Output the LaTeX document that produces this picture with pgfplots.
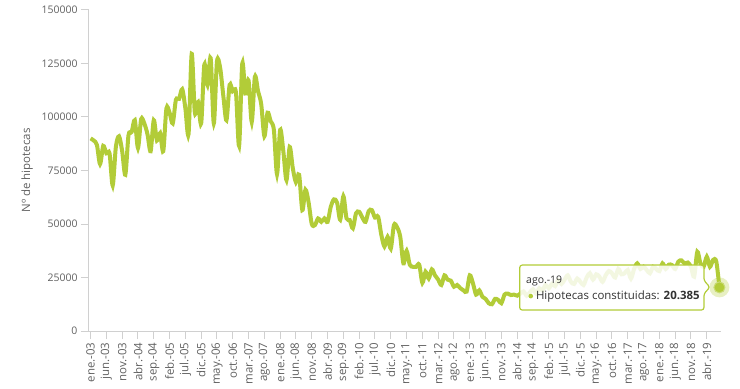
\documentclass[border=0pt]{standalone}
\usepackage{fontspec}
\setmainfont{Open Sans}
\usepackage{pgfplots}
\pgfplotsset{compat=1.18}
\definecolor{lineg}{RGB}{178,204,56}
\definecolor{axg}{RGB}{208,208,208}
\definecolor{txt}{RGB}{96,96,96}
\definecolor{dark}{RGB}{51,51,51}
\begin{document}
\begin{tikzpicture}
\begin{axis}[
  scale only axis, width=632bp, height=321bp,
  xmin=-0.5, xmax=199.5, ymin=0, ymax=150000,
  axis lines*=left,
  axis line style={axg, line width=1bp},
  every tick/.style={axg, line width=1bp},
  tick align=outside, major tick length=8bp,
  ytick={0,25000,50000,75000,100000,125000,150000},
  scaled y ticks=false,
  /pgf/number format/assume math mode=true,
  yticklabel style={font=\fontsize{10.5}{12}\selectfont, text=txt, /pgf/number format/.cd, fixed, set thousands separator={}},
  xtick={0,5,...,195},
  xticklabels={ene.-03,jun.-03,nov.-03,abr.-04,sep.-04,feb.-05,jul.-05,dic.-05,may.-06,oct.-06,mar.-07,ago.-07,ene.-08,jun.-08,nov.-08,abr.-09,sep.-09,feb.-10,jul.-10,dic.-10,may.-11,oct.-11,mar.-12,ago.-12,ene.-13,jun.-13,nov.-13,abr.-14,sep.-14,feb.-15,jul.-15,dic.-15,may.-16,oct.-16,mar.-17,ago.-17,ene.-18,jun.-18,nov.-18,abr.-19},
  xticklabel style={rotate=90, anchor=east, font=\fontsize{11.5}{13}\selectfont, text=txt},
  ylabel={Nº de hipotecas},
  ylabel style={at={(axis description cs:-0.098,0.5)}, anchor=center, font=\fontsize{11.5}{13}\selectfont, text=txt},
  clip=false,
]
\addplot[lineg, line width=4bp, smooth, tension=0.5] coordinates {
(0,90000)(1,89000)(2,87000)(3,78000)(4,86500)(5,83000)(6,83000)(7,68000)(8,86000)(9,91000)
(10,84000)(11,73000)(12,91500)(13,93000)(14,98500)(15,85500)(16,99000)(17,97000)(18,92000)(19,84000)
(20,98500)(21,89000)(22,92500)(23,84000)(24,104000)(25,102000)(26,97000)(27,108000)(28,108500)(29,113000)
(30,104000)(31,92000)(32,129500)(33,102000)(34,107000)(35,97000)(36,124500)(37,115000)(38,127500)(39,97000)
(40,126000)(41,123000)(42,110000)(43,98500)(44,115000)(45,112000)(46,111500)(47,86500)(48,125000)(49,111000)
(50,117000)(51,97700)(52,118800)(53,112000)(54,106000)(55,91000)(56,102000)(57,98000)(58,94000)(59,73300)
(60,94000)(61,84000)(62,70500)(63,86000)(64,76000)(65,69500)(66,73000)(67,56500)(68,66000)(69,60000)
(70,50000)(71,49500)(72,52600)(73,51000)(74,52600)(75,51000)(76,58000)(77,61500)(78,60000)(79,52000)
(80,63000)(81,52600)(82,51800)(83,48000)(84,55000)(85,55700)(86,53000)(87,51000)(88,56000)(89,56500)
(90,53000)(91,53400)(92,45000)(93,39500)(94,44000)(95,38500)(96,49500)(97,48500)(98,44000)(99,31600)
(100,37500)(101,31000)(102,30000)(103,30000)(104,31000)(105,22500)(106,27700)(107,24500)(108,28800)(109,26000)
(110,24000)(111,21500)(112,26000)(113,24000)(114,23500)(115,20700)(116,21500)(117,20000)(118,19000)(119,18400)
(120,26000)(121,22300)(122,17000)(123,19000)(124,16000)(125,15000)(126,13000)(127,12500)(128,15000)(129,14500)
(130,13000)(131,17000)(132,17500)(133,16800)(134,17000)(135,16500)(136,17500)(137,18500)(138,16500)(139,18000)
(140,19500)(141,17500)(142,20000)(143,19000)(144,21500)(145,20000)(146,22000)(147,21000)(148,23800)(149,22000)
(150,24000)(151,26000)(152,23000)(153,22000)(154,24500)(155,23000)(156,21500)(157,25000)(158,27000)(159,24000)
(160,26500)(161,25400)(162,23000)(163,26000)(164,28000)(165,27000)(166,25000)(167,29000)(168,26500)(169,27000)
(170,28500)(171,24500)(172,29000)(173,31600)(174,29000)(175,30000)(176,28500)(177,27000)(178,30000)(179,29000)
(180,28000)(181,31600)(182,29000)(183,31000)(184,30800)(185,29000)(186,32400)(187,33000)(188,31500)(189,32000)
(190,30000)(191,25400)(192,37000)(193,31500)(194,30000)(195,34700)(196,30000)(197,33200)(198,32500)(199,20385)
};
% tooltip
\draw[lineg, line width=1.2bp, fill=white, fill opacity=0.85, rounded corners=2.5bp]
  (axis cs:135.8,30800) -- (axis cs:194.1,30800) -- (axis cs:194.1,23600)
  -- (axis cs:196,20500) -- (axis cs:194.1,17400) -- (axis cs:194.1,9800)
  -- (axis cs:135.8,9800) -- cycle;
\node[anchor=west, inner sep=0pt, text=dark, font=\fontsize{10.5}{12}\selectfont] at (axis cs:137.8,23400) {ago.-19};
\fill[lineg] (axis cs:139.3,16300) circle (2.3bp);
\node[anchor=west, inner sep=0pt, text=dark, font=\fontsize{11.5}{14}\selectfont] at (axis cs:140.9,16300) {Hipotecas constituidas: \textbf{20.385}};
\addplot[only marks, mark=*, mark size=10bp, lineg, mark options={draw opacity=0, fill opacity=0.3}] coordinates {(199,20385)};
\addplot[only marks, mark=*, mark size=5.5bp, lineg, mark options={draw=lineg!70!white, line width=1bp}] coordinates {(199,20385)};
\end{axis}
\pgfresetboundingbox
\path (current axis.south west) ++(-89bp,-58bp) rectangle ++(740bp,389bp);
\end{tikzpicture}
\end{document}
